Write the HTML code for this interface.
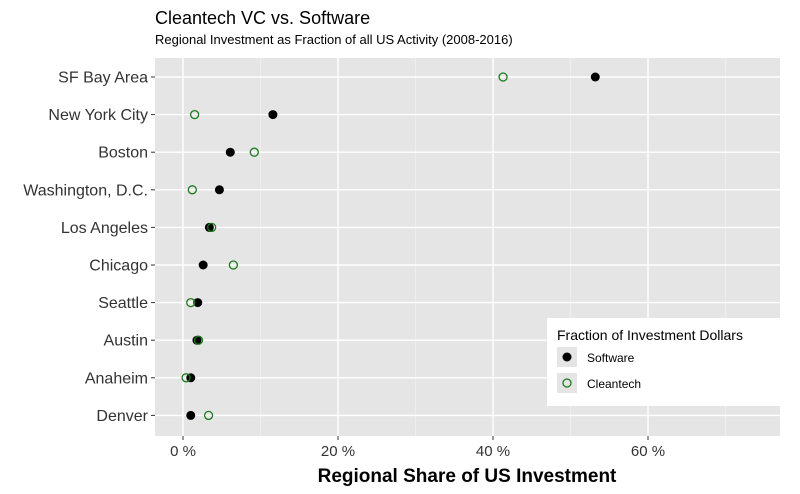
<!DOCTYPE html>
<html><head><meta charset="utf-8"><style>
body{margin:0;background:#fff;}
svg{display:block;font-family:"Liberation Sans","DejaVu Sans",sans-serif;}
</style></head><body>
<svg id="chart" width="800" height="494">
<rect width="800" height="494" fill="#fff"/>
<text x="155" y="24" font-size="18" fill="#000">Cleantech VC vs. Software</text>
<text x="155" y="44" font-size="13" fill="#000">Regional Investment as Fraction of all US Activity (2008-2016)</text>
<rect x="155" y="58" width="625" height="378" fill="#e5e5e5"/>
<g id="grid"></g><g id="marks"></g><g id="axes"></g>
<text x="467" y="482" font-size="19" font-weight="bold" text-anchor="middle" fill="#000">Regional Share of US Investment</text>
<g>
<rect x="547" y="318" width="233" height="88" fill="#fff"/>
<text x="557" y="340" font-size="14" fill="#000">Fraction of Investment Dollars</text>
<rect x="557" y="347" width="20" height="20" fill="#e5e5e5"/>
<circle cx="567" cy="357" r="4.5" fill="#000"/>
<text x="587" y="362" font-size="12" fill="#000">Software</text>
<rect x="557" y="373" width="20" height="20" fill="#e5e5e5"/>
<circle cx="567" cy="383" r="4" fill="none" stroke="#1a7a1a" stroke-width="1.3"/>
<text x="587" y="388" font-size="12" fill="#000">Cleantech</text>
</g>
</svg>
<script>
const regions=["SF Bay Area","New York City","Boston","Washington, D.C.","Los Angeles","Chicago","Seattle","Austin","Anaheim","Denver"];
const software=[53.2,11.6,6.1,4.7,3.4,2.6,1.9,1.8,1.0,1.0];
const cleantech=[41.3,1.5,9.2,1.2,3.7,6.5,1.0,2.0,0.4,3.3];
const majorTicks=[0,20,40,60];
const tickLabels=["0 %","20 %","40 %","60 %"];
const minorTicks=[10,30,50,70];
const NS="http://www.w3.org/2000/svg";
const x=v=>183+v*7.75;
const y=i=>77+i*37.6;
function mk(tag,attrs,parent){const e=document.createElementNS(NS,tag);for(const k in attrs)e.setAttribute(k,attrs[k]);document.getElementById(parent).appendChild(e);return e;}
minorTicks.forEach(t=>{const l=mk("line",{x1:x(t),x2:x(t),y1:58,y2:436,stroke:"#f2f2f2","stroke-width":0.7},"grid");

});
majorTicks.forEach((t,i)=>{const l=mk("line",{x1:x(t),x2:x(t),y1:58,y2:436,stroke:"#fff","stroke-width":1.4},"grid");


const tk=mk("line",{x1:x(t),x2:x(t),y1:436,y2:440,stroke:"#333"},"axes");


const tx=mk("text",{x:x(t),y:456,"font-size":15,"text-anchor":"middle",fill:"#333"},"axes");tx.textContent=tickLabels[i];

});
regions.forEach((r,i)=>{const l=mk("line",{x1:155,x2:780,y1:y(i),y2:y(i),stroke:"#fff","stroke-width":1.4},"grid");


const tk=mk("line",{x1:151,x2:155,y1:y(i),y2:y(i),stroke:"#333"},"axes");


const tx=mk("text",{x:148,y:y(i)+5.5,"font-size":16,"text-anchor":"end",fill:"#333"},"axes");tx.textContent=r;


const s=mk("circle",{cx:x(software[i]),cy:y(i),r:4.5,fill:"#000"},"marks");


const c=mk("circle",{cx:x(cleantech[i]),cy:y(i),r:4,fill:"none",stroke:"#1a7a1a","stroke-width":1.3},"marks");

});
</script>
</body></html>
